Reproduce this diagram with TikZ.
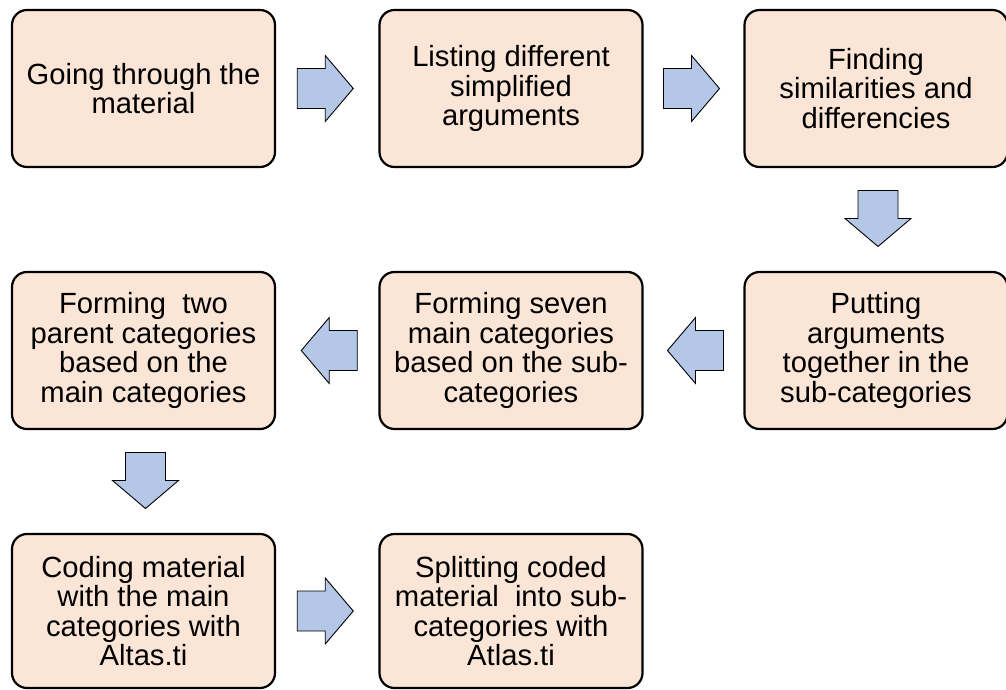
\documentclass[tikz,border=0pt]{standalone}
\usepackage{fontspec}
\setmainfont{Liberation Sans}
\usetikzlibrary{calc}
\definecolor{boxfill}{HTML}{FBE5D6}
\definecolor{arrowfill}{HTML}{B4C7E7}
\tikzset{
  stepbox/.style={draw=black, line width=2.2pt, fill=boxfill, rounded corners=15pt,
    minimum width=263pt, minimum height=157pt, inner sep=0pt, align=center,
    font=\fontsize{29.2pt}{29.5pt}\selectfont},
  blockarrowline/.style={draw=black, line width=0.9pt, fill=arrowfill, line join=miter},
  barrow/.pic={
    \draw[blockarrowline] (-28,-20) -- (0,-20) -- (0,-33) -- (28,0) -- (0,33) -- (0,20) -- (-28,20) -- cycle;
  }
}
\begin{document}
\begin{tikzpicture}[x=1pt,y=-1pt]
\useasboundingbox (0,0) rectangle (1006,689);
\node[stepbox] (b1) at (143.5,88.5) {Going through the\\material};
\node[stepbox] (b2) at (511,88.5) {Listing different\\simplified\\arguments};
\node[stepbox] (b3) at (876,88.5) {Finding\\similarities and\\differencies};
\node[stepbox] (b4) at (876,350.5) {Putting\\arguments\\together in the\\sub-categories};
\node[stepbox] (b5) at (511,350.5) {Forming seven\\main categories\\based on the sub-\\categories};
\node[stepbox] (b6) at (143.5,350.5) {Forming\ \ two\\parent categories\\based on the\\main categories};
\node[stepbox, minimum height=154pt] (b7) at (143.5,611) {Coding material\\with the main\\categories with\\Altas.ti};
\node[stepbox, minimum height=154pt] (b8) at (511,611) {Splitting coded\\material\ \ into sub-\\categories with\\Atlas.ti};
\coordinate (a1) at ($(b1.east)!0.5!(b2.west)+(-2,0)$);
\coordinate (a2) at ($(b2.east)!0.5!(b3.west)+(-2,0)$);
\coordinate (a3) at ($(b3.south)!0.5!(b4.north)+(2,-1)$);
\coordinate (a4) at ($(b4.west)!0.5!(b5.east)+(2,0)$);
\coordinate (a5) at ($(b5.west)!0.5!(b6.east)+(2,0)$);
\coordinate (a6) at ($(b6.south)!0.5!(b7.north)+(2,-1)$);
\coordinate (a7) at ($(b7.east)!0.5!(b8.west)+(-2,0)$);
\pic at (a1) {barrow};
\pic at (a2) {barrow};
\pic[rotate=-90] at (a3) {barrow};
\pic[rotate=180] at (a4) {barrow};
\pic[rotate=180] at (a5) {barrow};
\pic[rotate=-90] at (a6) {barrow};
\pic at (a7) {barrow};
\end{tikzpicture}
\end{document}
